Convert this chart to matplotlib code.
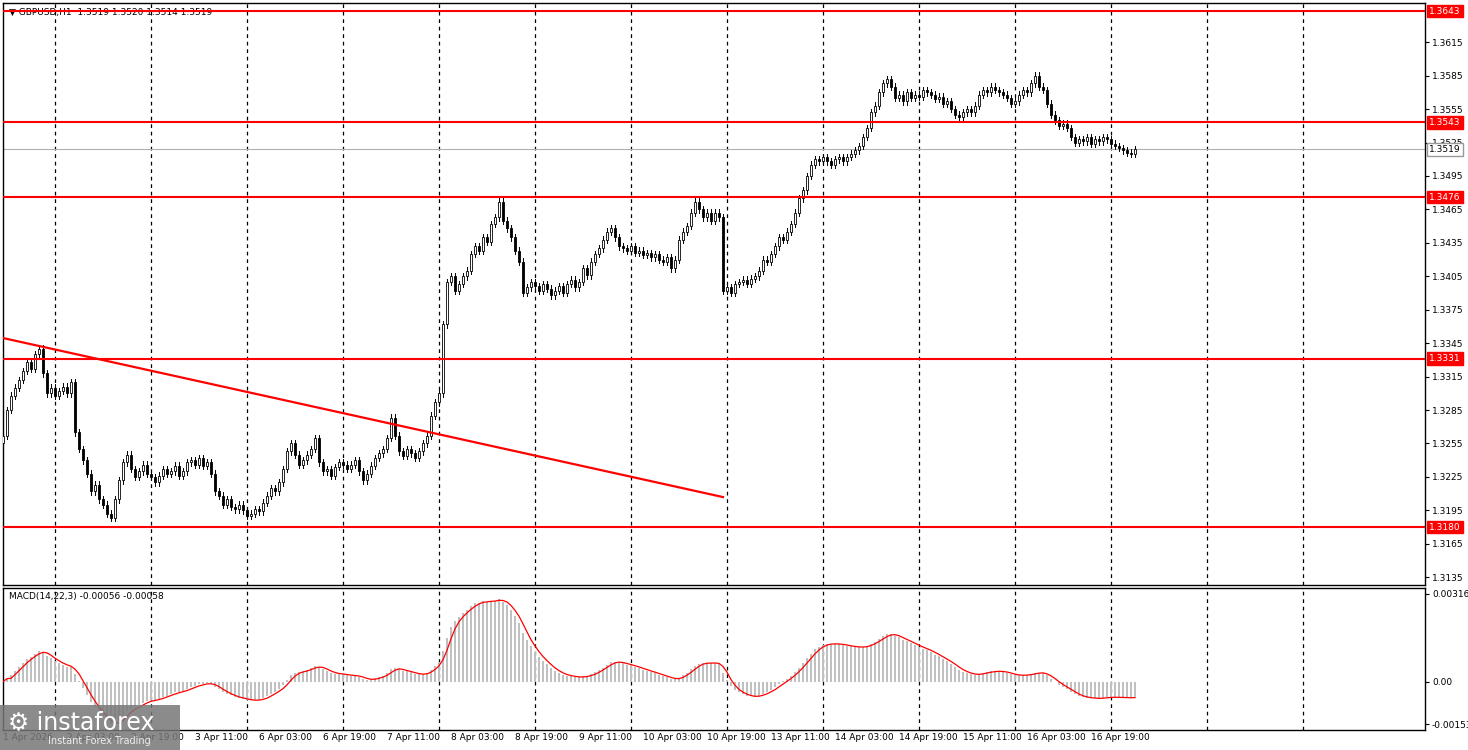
import matplotlib
matplotlib.use("Agg")
import matplotlib.pyplot as plt
import numpy as np
from matplotlib.patches import Rectangle

closes_pips = [
13262,13285,13298,13305,13312,13320,13328,13322,13335,13340,
13318,13300,13305,13298,13302,13306,13300,13310,13265,13250,
13240,13228,13212,13218,13205,13200,13192,13188,13205,13222,
13238,13245,13232,13225,13230,13236,13228,13225,13220,13226,
13232,13228,13230,13235,13226,13230,13238,13240,13236,13242,
13235,13238,13228,13212,13208,13200,13205,13198,13196,13200,
13195,13190,13192,13196,13194,13202,13208,13215,13212,13220,
13232,13248,13255,13245,13236,13240,13245,13250,13260,13238,
13230,13232,13226,13234,13238,13236,13232,13236,13240,13230,
13222,13228,13235,13242,13246,13250,13260,13278,13262,13248,
13244,13250,13246,13242,13248,13255,13262,13280,13292,13300,
13362,13400,13405,13392,13398,13405,13410,13425,13432,13428,
13440,13436,13452,13458,13472,13455,13448,13440,13428,13418,
13390,13395,13400,13396,13392,13398,13394,13388,13392,13396,
13390,13398,13402,13395,13400,13412,13406,13418,13425,13430,
13438,13445,13448,13440,13432,13430,13428,13432,13426,13428,
13424,13426,13422,13425,13420,13418,13422,13412,13420,13438,
13445,13450,13462,13472,13465,13458,13462,13455,13462,13458,
13392,13395,13390,13398,13400,13402,13398,13403,13405,13410,
13420,13418,13425,13432,13440,13438,13445,13452,13462,13475,
13482,13495,13505,13510,13508,13512,13508,13505,13510,13512,
13508,13512,13515,13518,13522,13530,13538,13552,13558,13570,
13578,13582,13575,13565,13568,13562,13570,13565,13568,13566,
13572,13570,13568,13564,13566,13560,13562,13555,13550,13548,
13552,13555,13552,13558,13568,13572,13570,13575,13572,13570,
13568,13565,13560,13562,13568,13572,13570,13578,13585,13575,
13572,13560,13550,13545,13540,13542,13538,13530,13525,13528,
13526,13530,13524,13528,13526,13530,13528,13524,13522,13520,
13518,13516,13515,13519]
first_open_pips = 13255
levels = [1.3643, 1.3543, 1.3476, 1.3331, 1.3180]
current_price = 1.3519
trend_start = (0, 1.33496)
trend_end = (180, 1.32069)
price_ticks = [1.3135,1.3165,1.3195,1.3225,1.3255,1.3285,1.3315,1.3345,1.3375,
               1.3405,1.3435,1.3465,1.3495,1.3525,1.3555,1.3585,1.3615]
macd_ticks = [0.00316, 0.0, -0.00153]
macd_tick_labels = ["0.00316", "0.00", "-0.00153"]
time_labels = ["1 Apr 2026","2 Apr 03:00","2 Apr 19:00","3 Apr 11:00","6 Apr 03:00",
               "6 Apr 19:00","7 Apr 11:00","8 Apr 03:00","8 Apr 19:00","9 Apr 11:00",
               "10 Apr 03:00","10 Apr 19:00","13 Apr 11:00","14 Apr 03:00","14 Apr 19:00",
               "15 Apr 11:00","16 Apr 03:00","16 Apr 19:00"]

c = np.array(closes_pips) / 10000.0
o = np.concatenate([[first_open_pips / 10000.0], c[:-1]])
n = len(c)
idx = np.arange(n)

def ema(x, p):
    a = 2.0 / (p + 1)
    out = np.empty_like(x)
    out[0] = x[0]
    for i in range(1, len(x)):
        out[i] = a * x[i] + (1 - a) * out[i - 1]
    return out
macd = ema(c, 14) - ema(c, 22)
sig = np.convolve(macd, np.ones(3) / 3, mode="full")[:n]
sig[:2] = macd[:2]

W, H = 1468, 750
fig = plt.figure(figsize=(W / 100, H / 100), dpi=100)
L, R = 3 / W, 1425 / W
ax = fig.add_axes([L, 1 - 585 / H, R - L, (585 - 3) / H])
ax2 = fig.add_axes([L, 1 - 730 / H, R - L, (730 - 588) / H])
xmin, xmax = 0.0, (1425 - 3) / 4
ymin, ymax = 1.3128, 1.36502
ax.set_xlim(xmin, xmax); ax.set_ylim(ymin, ymax)
ax2.set_xlim(xmin, xmax); ax2.set_ylim(-0.00174, 0.00337)

for a in (ax, ax2):
    for g in range(13, n + 60, 24):
        a.axvline(g, color="black", lw=0.9, ls=(0, (3, 3)), zorder=0)
    a.set_xticks([])
    a.yaxis.tick_right()
    a.tick_params(axis="y", labelsize=6.5, length=3, pad=2)
    for s in a.spines.values():
        s.set_linewidth(1)

# candles
bw = 0.5
for i in idx:
    hi = max(o[i], c[i]) + 0.0003
    lo = min(o[i], c[i]) - 0.0003
    ax.plot([i, i], [lo, hi], color="black", lw=0.7, zorder=3)
    bot = min(o[i], c[i]); h = max(abs(c[i] - o[i]), 0.00003)
    fc = "white" if c[i] >= o[i] else "black"
    ax.add_patch(Rectangle((i - bw / 2, bot), bw, h, facecolor=fc, edgecolor="black", lw=0.6, zorder=4))

for lv in levels:
    ax.axhline(lv, color="red", lw=1.5, zorder=5)
ax.axhline(current_price, color="#b0b0b0", lw=0.8, zorder=2)
ax.plot([trend_start[0], trend_end[0]], [trend_start[1], trend_end[1]], color="red", lw=1.6, zorder=5)

ax.set_yticks(price_ticks)
ax.set_yticklabels([f"{t:.4f}" for t in price_ticks])
for lv in levels:
    ax.text(1.003, lv, f"{lv:.4f}", transform=ax.get_yaxis_transform(), fontsize=6.5, color="white",
            va="center", ha="left", bbox=dict(boxstyle="square,pad=0.2", fc="red", ec="red"), zorder=10, clip_on=False)
ax.text(1.003, current_price, f"{current_price:.4f}", transform=ax.get_yaxis_transform(), fontsize=6.5, color="black",
        va="center", ha="left", bbox=dict(boxstyle="square,pad=0.2", fc="white", ec="#999999"), zorder=10, clip_on=False)
ax.text(0.004, 0.992, "\u25bc GBPUSD,H1  1.3519 1.3520 1.3514 1.3519", transform=ax.transAxes,
        fontsize=6.5, va="top", ha="left", zorder=1)

# MACD
ax2.bar(idx, macd, width=0.6, color="#c0c0c0", zorder=2)
ax2.plot(idx, sig, color="red", lw=0.9, zorder=3)
ax2.set_yticks(macd_ticks)
ax2.set_yticklabels(macd_tick_labels)
ax2.text(0.004, 0.97, f"MACD(14,22,3) {macd[-1]:.5f} {sig[-1]:.5f}", transform=ax2.transAxes,
         fontsize=6.5, va="top", ha="left")

for k, lab in enumerate(time_labels):
    px = 3 + 64 * k
    fig.text(px / W, 1 - 738 / H, lab, fontsize=6.5, ha="left", va="center")

# logo
fig.patches.append(Rectangle((0, 0), 180 / W, 45 / H, transform=fig.transFigure,
                             facecolor="#777777", alpha=0.85, zorder=20))
fig.text(8 / W, 1 - 722 / H, "\u2699 instaforex", fontsize=17, color="white", zorder=21, va="center")
fig.text(48 / W, 1 - 741 / H, "Instant Forex Trading", fontsize=7, color="#eeeeee", zorder=21, va="center")

fig.savefig("out.png", dpi=100)
